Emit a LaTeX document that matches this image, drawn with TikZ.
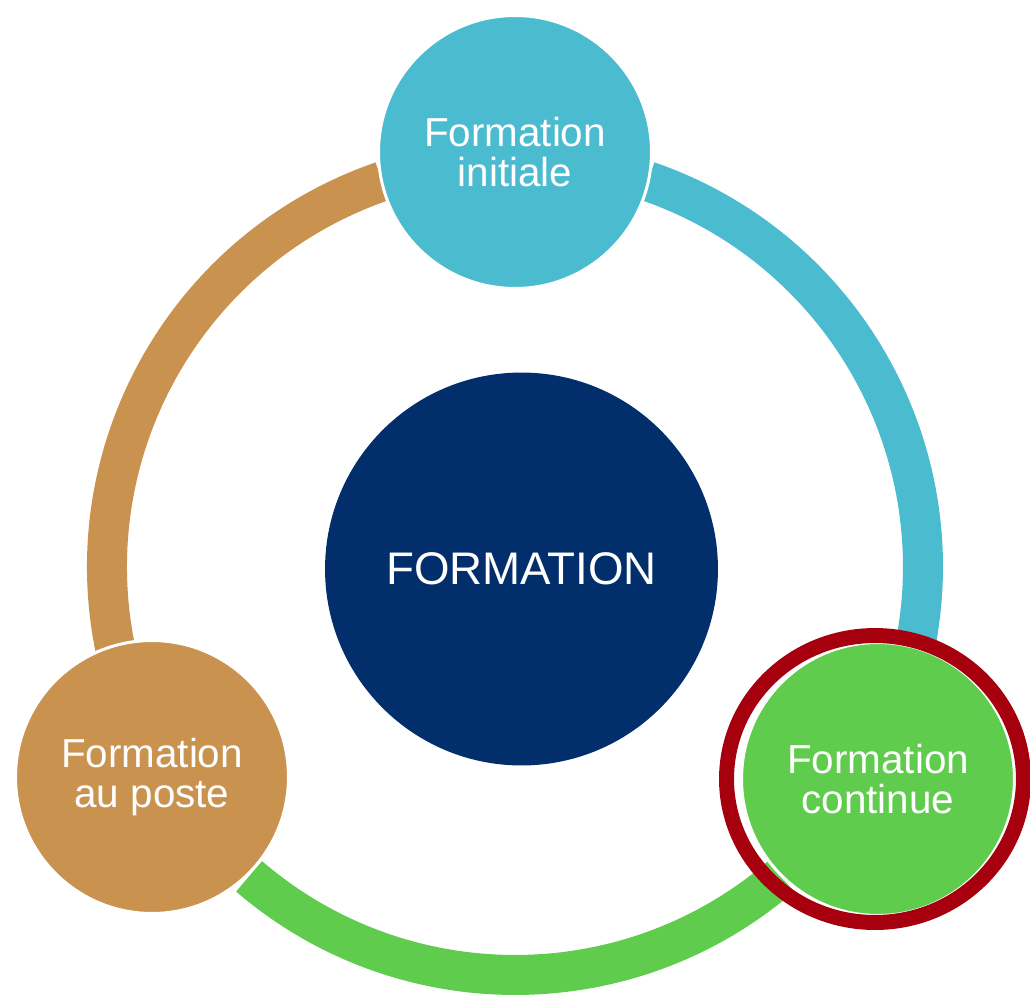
\documentclass[tikz,border=0pt]{standalone}
\usepackage{fontspec}
\setmainfont{Liberation Sans}
\usepackage{tikz}

\definecolor{initcyan}{RGB}{75,187,207}
\definecolor{postebrown}{RGB}{201,146,79}
\definecolor{contgreen}{RGB}{96,204,77}
\definecolor{corenavy}{RGB}{2,47,107}
\definecolor{markred}{RGB}{166,0,15}

\begin{document}
\begin{tikzpicture}[
    x=0.02cm, y=0.02cm,
    ringarc/.style={line width=0.8cm, line cap=butt},
    stage/.style={circle, draw=white, line width=0.06cm, minimum size=5.46cm,
        inner sep=0pt, align=center, text=white, font=\fontsize{23}{23}\selectfont}
]
\useasboundingbox (-515,-428) rectangle (515,567);
\coordinate (hub) at (0,0);

% ring segments between the stages
\draw[ringarc, initcyan] ([shift={(71:408)}]hub) arc[start angle=71, end angle=-11.3, radius=8.16cm];
\draw[ringarc, contgreen] ([shift={(310.7:408)}]hub) arc[start angle=310.7, end angle=229.3, radius=8.16cm];
\draw[ringarc, postebrown] ([shift={(191.3:408)}]hub) arc[start angle=191.3, end angle=109, radius=8.16cm];

\node[stage, fill=initcyan] (init) at (0,415) {Formation\\initiale};
\node[stage, fill=postebrown] (poste) at (-363,-210) {Formation\\au poste};
\node[stage, fill=contgreen] (cont) at (363,-212) {Formation\\continue};
\node[circle, fill=corenavy, minimum size=7.86cm, inner sep=0pt, text=white,
    font=\fontsize{26}{27}\selectfont] (core) at (6.5,-2) {FORMATION};

% highlight
\draw[markred, line width=0.3cm] ([shift={(-3,0)}]cont.center) ellipse[x radius=2.97cm, y radius=2.87cm];
\end{tikzpicture}
\end{document}
